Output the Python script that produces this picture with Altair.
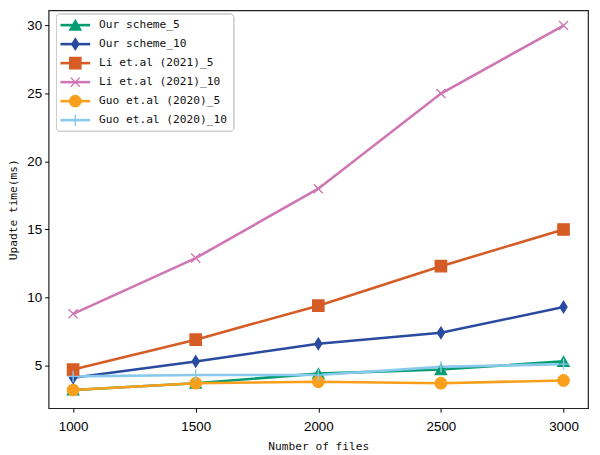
import altair as alt
import pandas as pd

files = [1000, 1500, 2000, 2500, 3000]
names = ["Our scheme_5", "Our scheme_10", "Li et.al (2021)_5",
         "Li et.al (2021)_10", "Guo et.al (2020)_5", "Guo et.al (2020)_10"]
our5 = [3.2, 3.7, 4.4, 4.7, 5.3]
our10 = [4.1, 5.3, 6.6, 7.4, 9.3]
li5 = [4.7, 6.9, 9.4, 12.3, 15.0]
li10 = [8.8, 12.9, 18.0, 25.0, 30.0]
guo5 = [3.2, 3.7, 3.8, 3.7, 3.9]
guo10 = [4.2, 4.3, 4.3, 4.9, 5.1]
series = [our5, our10, li5, li10, guo5, guo10]

colors = ["#049d72", "#2a4a9f", "#d65c25", "#cf76b4", "#fa9f1c", "#88c9ec"]
shapes = ["triangle-up", "M0,-1L0.62,0L0,1L-0.62,0Z", "square",
          "M-0.8,-0.8L0.8,0.8M0.8,-0.8L-0.8,0.8", "circle",
          "M-1,0L1,0M0,-1L0,1"]

rows = []
for si, (n, vals) in enumerate(zip(names, series)):
    for f, v in zip(files, vals):
        rows.append({"name": n, "order": si, "files": f, "value": v})
df = pd.DataFrame(rows)
leg = pd.DataFrame({"name": names})

color_scale = alt.Scale(domain=names, range=colors)
shape_scale = alt.Scale(domain=names, range=shapes)

MONO = "DejaVu Sans Mono"

X = alt.X("files:Q", scale=alt.Scale(domain=[900, 3100], nice=False, zero=False),
          axis=alt.Axis(values=[1000, 1500, 2000, 2500, 3000], title="Number of files",
                        format="d", grid=False))
Y = alt.Y("value:Q", scale=alt.Scale(domain=[1.86, 31.12], nice=False, zero=False),
          axis=alt.Axis(values=[5, 10, 15, 20, 25, 30], title="Upadte time(ms)", grid=False))

base = alt.Chart(df)
lines = base.mark_line(strokeWidth=2.6).encode(
    x=X, y=Y,
    color=alt.Color("name:N", scale=color_scale, legend=None),
    detail="name:N",
    order=alt.Order("files:Q"),
)
pts = base.mark_point(filled=True, size=130, strokeWidth=1.4, opacity=1).encode(
    x=X, y=Y,
    color=alt.Color("name:N", scale=color_scale, legend=None),
    stroke=alt.Stroke("name:N", scale=color_scale, legend=None),
    shape=alt.Shape("name:N", scale=shape_scale, legend=None),
)
main = alt.layer(lines, pts)

LY = alt.Y("name:N", scale=alt.Scale(type="point", domain=names, range=[15, 111], padding=0),
           axis=None)
legbg = alt.Chart(leg).mark_rect(fill="white", stroke="#cccccc", strokeWidth=1,
                                 cornerRadius=3).encode(
    x=alt.value(8), x2=alt.value(187), y=alt.value(4), y2=alt.value(122))
legline = alt.Chart(leg).mark_rule(strokeWidth=2.6).encode(
    x=alt.value(12), x2=alt.value(42), y=LY,
    color=alt.Color("name:N", scale=color_scale, legend=None))
legpt = alt.Chart(leg).mark_point(filled=True, size=130, strokeWidth=1.4, opacity=1).encode(
    x=alt.value(27), y=LY,
    color=alt.Color("name:N", scale=color_scale, legend=None),
    stroke=alt.Stroke("name:N", scale=color_scale, legend=None),
    shape=alt.Shape("name:N", scale=shape_scale, legend=None))
legtxt = alt.Chart(leg).mark_text(align="left", baseline="middle", font=MONO,
                                  fontSize=11.3, color="#111111").encode(
    x=alt.value(51), y=LY, text="name:N")
legend = alt.layer(legbg, legline, legpt, legtxt)

chart = alt.layer(main, legend).resolve_scale(y="independent").properties(
    width=545, height=402,
    autosize=alt.AutoSizeParams(type="none"),
    padding={"left": 41, "top": 0, "right": 4, "bottom": 45},
).configure_view(stroke="#222222", strokeWidth=1.2).configure_axis(
    labelFont="Liberation Sans", labelFontSize=13.5, labelColor="black",
    titleFont=MONO, titleFontSize=11.3, titleFontWeight="normal",
    titleColor="#111111", tickColor="black", tickSize=4, domain=False,
).configure_axisX(labelPadding=8, titlePadding=7).configure_axisY(labelPadding=3, titlePadding=8)

chart.save("out.html", embed_options={"renderer": "svg", "actions": False})
